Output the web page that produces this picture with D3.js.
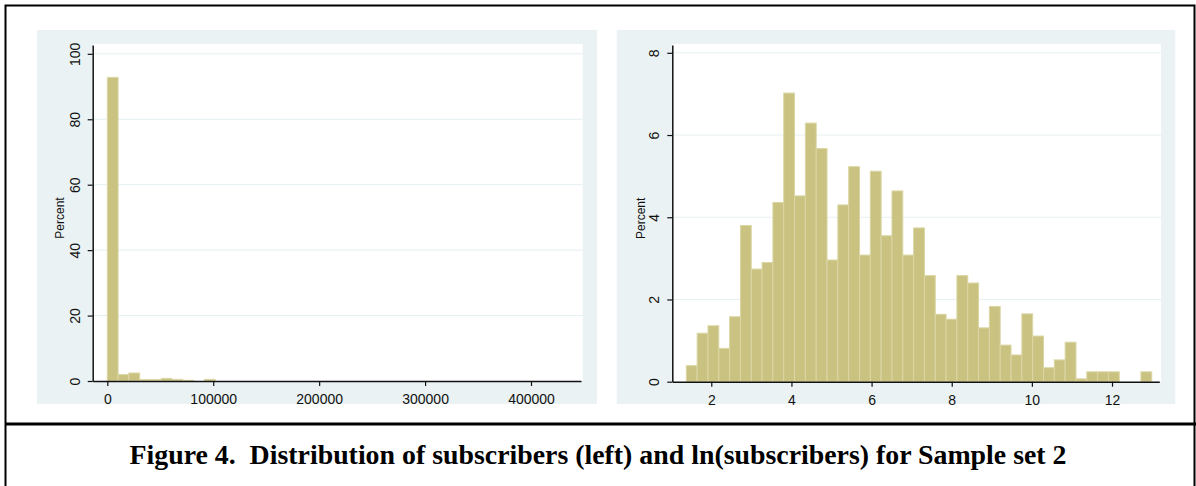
<!DOCTYPE html>
<html>
<head>
<meta charset="utf-8">
<script src="https://cdn.jsdelivr.net/npm/d3@7"></script>
<style>
  body { margin: 0; background: #fff; }
  svg { display: block; }
</style>
</head>
<body>
<script>
// Left histogram: subscribers (43 bins)
const leftBinStart = 4
const leftBinWidth = 10186
const leftPct = [92.8, 1.96, 2.45, 0.4, 0.4, 0.8, 0.5, 0.2, 0, 0.5,
    0, 0, 0, 0, 0, 0, 0, 0, 0, 0,
    0, 0, 0, 0, 0, 0, 0, 0, 0, 0,
    0, 0, 0, 0, 0, 0, 0, 0, 0, 0,
    0, 0, 0]
const leftXTicks = [0, 100000, 200000, 300000, 400000]
const leftYTicks = [0, 20, 40, 60, 80, 100]

// Right histogram: ln(subscribers) (43 bins)
const rightBinStart = 1.377
const rightBinWidth = 0.2701
const rightPct = [0.39, 1.18, 1.36, 0.81, 1.58, 3.80, 2.74, 2.90, 4.36, 7.02,
    4.52, 6.29, 5.67, 2.96, 4.30, 5.23, 3.08, 5.12, 3.55, 4.64,
    3.08, 3.74, 2.58, 1.64, 1.52, 2.58, 2.40, 1.31, 1.83, 0.89,
    0.65, 1.65, 1.11, 0.34, 0.53, 0.96, 0.07, 0.24, 0.24, 0.24,
    0, 0, 0.24]
const rightXTicks = [2, 4, 6, 8, 10, 12]
const rightYTicks = [0, 2, 4, 6, 8]

const yLabel = 'Percent'
const caption = 'Figure 4.  Distribution of subscribers (left) and ln(subscribers) for Sample set 2'

const W = 1196, H = 486
const svg = d3.select('body').append('svg')
    .attr('width', W)
    .attr('height', H)

// frame
svg.append('path')
    .attr('d', `M5.5,${H} V5.5 H1194.5 V${H}`)
    .style('fill', 'none')
    .style('stroke', '#000')
    .style('stroke-width', 2)
svg.append('line')
    .attr('x1', 5).attr('x2', W)
    .attr('y1', 424).attr('y2', 424)
    .style('stroke', '#000')
    .style('stroke-width', 3)

const panels = [
    {
        bg: [37, 30, 597, 404], plot: [92.7, 45, 582.7, 381],
        xDomain: [-13783, 447200], yDomain: [0, 102.7],
        binStart: leftBinStart, binWidth: leftBinWidth, pct: leftPct,
        xTicks: leftXTicks, yTicks: leftYTicks, labelX: 64
    },
    {
        bg: [616.7, 30, 1175.3, 404], plot: [672.3, 45, 1161, 381.7],
        xDomain: [1.027, 13.18], yDomain: [0, 8.19],
        binStart: rightBinStart, binWidth: rightBinWidth, pct: rightPct,
        xTicks: rightXTicks, yTicks: rightYTicks, labelX: 645
    }
]

panels.forEach(p => {
    const [bx0, by0, bx1, by1] = p.bg
    const [px0, py0, px1, py1] = p.plot
    const axisRight = px1 - 1.7

    svg.append('rect')
        .attr('x', bx0).attr('y', by0)
        .attr('width', bx1 - bx0).attr('height', by1 - by0)
        .style('fill', '#eaf2f3')
    svg.append('rect')
        .attr('x', px0).attr('y', py0 - 1)
        .attr('width', px1 - px0).attr('height', py1 - py0 + 1)
        .style('fill', '#fff')

    const x = d3.scaleLinear().domain(p.xDomain).range([px0, axisRight])
    const y = d3.scaleLinear().domain(p.yDomain).range([py1, py0])

    // gridlines
    svg.append('g')
        .selectAll('line')
        .data(p.yTicks.slice(1))
        .join('line')
            .attr('x1', px0).attr('x2', px1)
            .attr('y1', d => y(d)).attr('y2', d => y(d))
            .style('stroke', '#e6eff1')
            .style('stroke-width', 1)

    // bars
    const bins = p.pct.map((v, i) => ({
        x0: p.binStart + i * p.binWidth,
        x1: p.binStart + (i + 1) * p.binWidth,
        v: v
    })).filter(d => d.v > 0)

    svg.append('g')
        .selectAll('rect')
        .data(bins)
        .join('rect')
            .attr('x', d => x(d.x0))
            .attr('width', d => x(d.x1) - x(d.x0))
            .attr('y', d => y(d.v))
            .attr('height', d => y(0) - y(d.v))
            .style('fill', '#c9c281')
            .style('stroke', '#dbd6a4')
            .style('stroke-width', 1)

    // axes
    const xAxis = svg.append('g')
        .attr('transform', `translate(0, ${py1})`)
        .call(d3.axisBottom(x).tickValues(p.xTicks).tickFormat(d3.format('d'))
            .tickSize(5).tickSizeOuter(0).tickPadding(8))
    const yAxis = svg.append('g')
        .attr('transform', `translate(${px0}, 0)`)
        .call(d3.axisLeft(y).tickValues(p.yTicks).tickFormat(d3.format('d'))
            .tickSize(5).tickSizeOuter(0))

    ;[xAxis, yAxis].forEach(a => {
        a.select('.domain').style('stroke', '#111').style('stroke-width', 1.5)
        a.selectAll('.tick line').style('stroke', '#111').style('stroke-width', 1.2)
        a.selectAll('text')
            .style('font-family', '"Liberation Sans", Arial, sans-serif')
            .style('font-size', '14px')
            .style('fill', '#111')
    })
    yAxis.selectAll('text')
        .attr('transform', 'rotate(-90)')
        .attr('x', 0)
        .attr('y', -13)
        .attr('dy', 0)
        .style('text-anchor', 'middle')

    // y label
    svg.append('text')
        .attr('transform', `translate(${p.labelX}, ${(py0 + py1) / 2 + 5}) rotate(-90)`)
        .style('text-anchor', 'middle')
        .style('font-family', '"Liberation Sans", Arial, sans-serif')
        .style('font-size', '12px')
        .style('fill', '#111')
        .text(yLabel)
})

// caption
svg.append('text')
    .attr('x', 598)
    .attr('y', 464)
    .attr('textLength', 937)
    .attr('lengthAdjust', 'spacingAndGlyphs')
    .style('text-anchor', 'middle')
    .style('white-space', 'pre')
    .style('font-family', '"Liberation Serif", "Times New Roman", serif')
    .style('font-weight', 'bold')
    .style('font-size', '27px')
    .text(caption)
</script>
</body>
</html>
